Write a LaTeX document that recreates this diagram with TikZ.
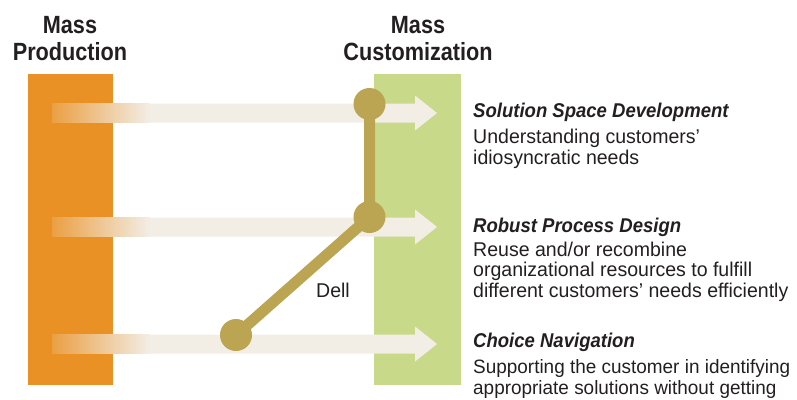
\documentclass[tikz,border=0pt]{standalone}
\usepackage{fontspec}
\setmainfont[FakeStretch=0.98]{Liberation Sans}
\newfontfamily\headfont[FakeStretch=0.87]{Liberation Sans}
\newfontfamily\titlefont[FakeStretch=0.93]{Liberation Sans}
\definecolor{mporange}{HTML}{EA9126}
\definecolor{mcgreen}{HTML}{C9D98A}
\definecolor{bandcream}{HTML}{F2EEE6}
\definecolor{dellolive}{HTML}{BBA553}
\definecolor{inkdark}{HTML}{231F20}
\begin{document}
\begin{tikzpicture}[x=1bp,y=-1bp,inner sep=0pt,
	head/.style={align=center,text=inkdark,font=\headfont\bfseries\fontsize{25}{27}\selectfont},
	ctitle/.style={anchor=base west,text=inkdark,font=\titlefont\bfseries\itshape\fontsize{20}{21}\selectfont},
	cdesc/.style={anchor=base west,align=left,text=inkdark,font=\fontsize{20}{20.5}\selectfont},
	dot/.style={circle,fill=dellolive,minimum size=32bp}]
	\useasboundingbox (0,0) rectangle (797,399);
	\clip (0,0) rectangle (797,399);
	% the two bars
	\fill[mporange] (28,74) rectangle (113,385);
	\fill[mcgreen] (374,74) rectangle (461,385);
	% arrows
	\foreach \y in {113,227,344}{
		\fill[bandcream] (52,\y-9.5) -- (415,\y-9.5) -- (415,\y-17.5) -- (437,\y)
			-- (415,\y+17.5) -- (415,\y+9.5) -- (52,\y+9.5) -- cycle;
		\shade[left color=mporange!85!bandcream,right color=bandcream] (52,\y-9.5) rectangle (150,\y+9.5);
	}
	% headings (base = last line)
	\node[head,anchor=base] (mp) at (70,60) {Mass\\Production};
	\node[head,anchor=base] (mc) at (418,60) {Mass\\Customization};
	% Dell path
	\coordinate (d1) at (369.5,104);
	\coordinate (d2) at (369.5,217);
	\coordinate (d3) at (236,335);
	\draw[dellolive,line width=11bp] (d1)--(d2)--(d3);
	\node[dot] (dot1) at (d1) {};
	\node[dot] (dot2) at (d2) {};
	\node[dot] (dot3) at (d3) {};
	\node[text=inkdark,font=\fontsize{20}{20}\selectfont] (dell) at (333,290) {Dell};
	% capabilities
	\node[ctitle] (t1) at (473,117) {Solution Space Development};
	\node[cdesc] (c1) at (473,164) {Understanding customers’\\idiosyncratic needs};
	\node[ctitle] (t2) at (473,232) {Robust Process Design};
	\node[cdesc] (c2) at (473,297) {Reuse and/or recombine\\organizational resources to fulfill\\different customers’ needs efficiently};
	\node[ctitle] (t3) at (473,347) {Choice Navigation};
	\node[cdesc,font=\fontsize{19.4}{20.5}\selectfont] (c3) at (473,394) {Supporting the customer in identifying\\appropriate solutions without getting};
\end{tikzpicture}
\end{document}
